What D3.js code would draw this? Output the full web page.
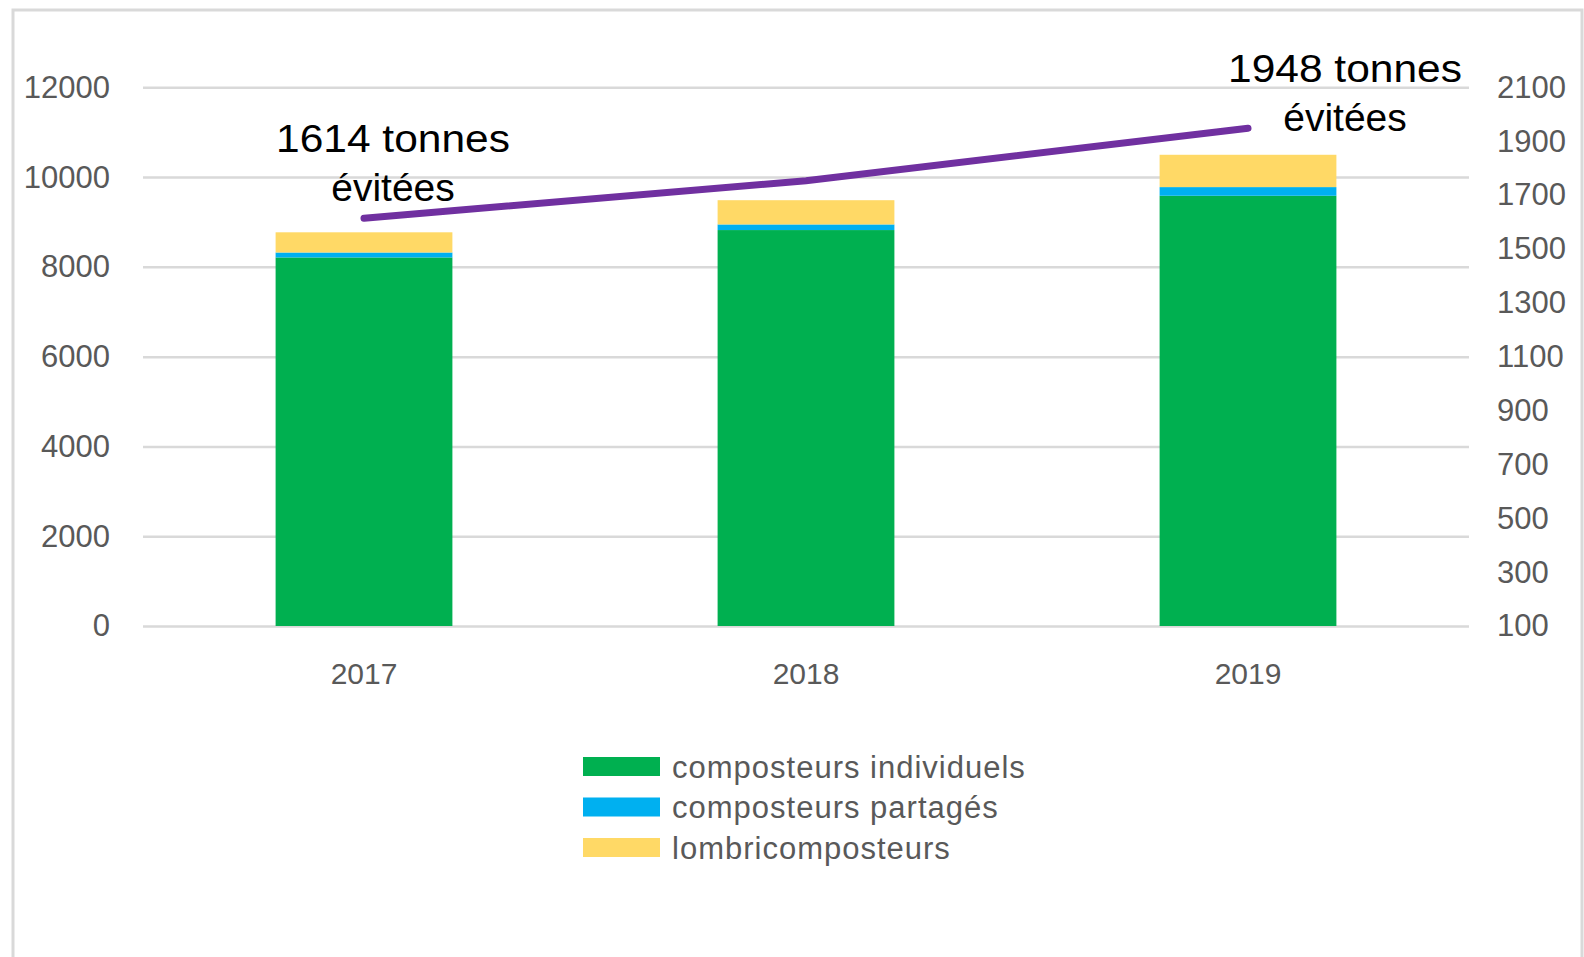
<!DOCTYPE html>
<html>
<head>
<meta charset="utf-8">
<script src="https://cdn.jsdelivr.net/npm/d3@7"></script>
<style>
  body { margin: 0; background: #fff; }
  text { font-family: "Liberation Sans", Arial, sans-serif; }
</style>
</head>
<body>
<div id="chart"></div>
<script>
var years        = [ '2017', '2018', '2019' ];
var individuels  = [ 8210, 8820, 9584 ];
var partages     = [ 110, 125, 193 ];
var lombri       = [ 450, 540, 720 ];
var tonnes       = [ 1614, 1753, 1948 ];
var left_ticks   = [ 0, 2000, 4000, 6000, 8000, 10000, 12000 ];
var right_ticks  = [ 100, 300, 500, 700, 900, 1100, 1300, 1500, 1700, 1900, 2100 ];
var series_names = [ 'composteurs individuels', 'composteurs partagés', 'lombricomposteurs' ];
var series_cols  = [ '#00b050', '#00b0f0', '#ffd966' ];

var width  = 1584;
var height = 957;
var svg = d3.select('#chart')
    .append('svg')
    .attr('width', width)
    .attr('height', height);

// frame around the chart area
svg.append('rect')
   .attr('x', 13).attr('y', 10)
   .attr('width', 1569).attr('height', 980)
   .attr('fill', 'none')
   .attr('stroke', '#d9d9d9')
   .attr('stroke-width', 3);

var plot_left = 143, plot_right = 1469;
var plot_top = 87.3, plot_bottom = 626;

var scale_x = d3.scaleBand()
    .domain(years)
    .range([plot_left, plot_right])
    .paddingInner(0.6)
    .paddingOuter(0.3);
var scale_y = d3.scaleLinear()
    .domain([0, 12000])
    .range([plot_bottom, plot_top]);
var scale_y2 = d3.scaleLinear()
    .domain([100, 2100])
    .range([plot_bottom, plot_top]);

// gridlines + left labels
var axis_left = d3.axisLeft(scale_y)
    .tickValues(left_ticks)
    .tickFormat(d3.format('d'))
    .tickSize(-(plot_right - plot_left))
    .tickPadding(33);
var gl = svg.append('g')
   .attr('class', 'y-axis')
   .attr('transform', 'translate(' + plot_left + ',0)')
   .call(axis_left);
gl.select('.domain').remove();
gl.selectAll('line').attr('stroke', '#d9d9d9').attr('stroke-width', 2.5);
gl.selectAll('text')
  .attr('fill', '#595959')
  .style('font-size', '31px');

// right axis labels
var axis_right = d3.axisRight(scale_y2)
    .tickValues(right_ticks)
    .tickFormat(d3.format('d'))
    .tickSize(0)
    .tickPadding(28);
var gr = svg.append('g')
   .attr('class', 'y2-axis')
   .attr('transform', 'translate(' + plot_right + ',0)')
   .call(axis_right);
gr.select('.domain').remove();
gr.selectAll('text')
  .attr('fill', '#595959')
  .style('font-size', '31px');

// stacked bars
var table = years.map(function(y, i) {
    return { year: y, a: individuels[i], b: partages[i], c: lombri[i] };
});
var stack = d3.stack().keys([ 'a', 'b', 'c' ]);
var layers = stack(table);
svg.append('g')
   .selectAll('g')
   .data(layers)
   .join('g')
   .attr('fill', function(d, i) { return series_cols[i]; })
   .selectAll('rect')
   .data(function(d) { return d; })
   .join('rect')
   .attr('x', function(d) { return scale_x(d.data.year); })
   .attr('width', scale_x.bandwidth())
   .attr('y', function(d) { return scale_y(d[1]); })
   .attr('height', function(d) { return scale_y(d[0]) - scale_y(d[1]); });

// x labels
var axis_x = d3.axisBottom(scale_x).tickSize(0).tickPadding(37);
var gx = svg.append('g')
   .attr('class', 'x-axis')
   .attr('transform', 'translate(0,' + plot_bottom + ')')
   .call(axis_x);
gx.select('.domain').remove();
gx.selectAll('text')
  .attr('fill', '#595959')
  .style('font-size', '30px');

// line on the secondary axis
var line = d3.line()
    .x(function(d, i) { return scale_x(years[i]) + scale_x.bandwidth() / 2; })
    .y(function(d) { return scale_y2(d); });
svg.append('path')
   .datum(tonnes)
   .attr('d', line)
   .attr('fill', 'none')
   .attr('stroke', '#7030a0')
   .attr('stroke-width', 7)
   .attr('stroke-linecap', 'round');

// annotations
var notes = [
    { i: 0, dx: 29, y: 151.7 },
    { i: 2, dx: 97, y: 81.7 }
];
notes.forEach(function(n) {
    var cx = scale_x(years[n.i]) + scale_x.bandwidth() / 2 + n.dx;
    var t = svg.append('text')
       .attr('text-anchor', 'middle')
       .attr('fill', '#000')
       .style('font-size', '39px');
    t.append('tspan').attr('x', cx).attr('y', n.y)
     .attr('textLength', 234).attr('lengthAdjust', 'spacingAndGlyphs')
     .text(tonnes[n.i] + ' tonnes');
    t.append('tspan').attr('x', cx).attr('y', n.y + 49).text('évitées');
});

// legend
var legend = svg.append('g').attr('transform', 'translate(583,757)');
series_names.forEach(function(name, i) {
    var row = legend.append('g').attr('transform', 'translate(0,' + (i * 40.5) + ')');
    row.append('rect')
       .attr('width', 77).attr('height', 19)
       .attr('fill', series_cols[i]);
    row.append('text')
       .attr('x', 89).attr('y', 10)
       .attr('dy', '0.35em')
       .attr('fill', '#595959')
       .style('font-size', '31px')
       .style('letter-spacing', '1px')
       .text(name);
});
</script>
</body>
</html>
